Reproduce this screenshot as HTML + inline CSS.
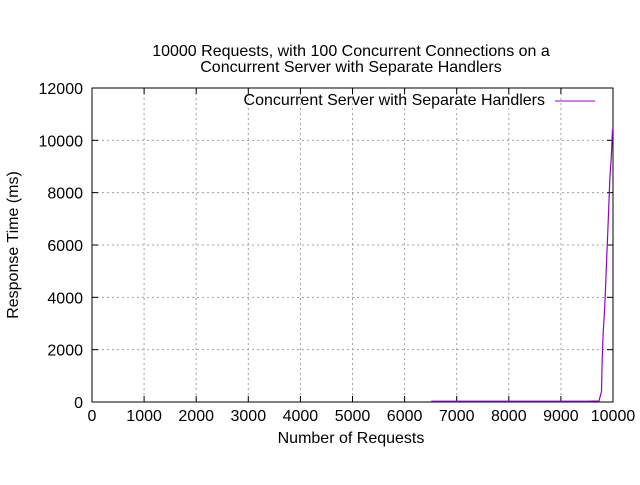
<!DOCTYPE html>
<html><head><meta charset="utf-8"><style>
body{margin:0;background:#fff}
svg text{font-family:"Liberation Sans",sans-serif;fill:#000}
</style></head><body>
<svg width="640" height="480" viewBox="0 0 640 480">
<g id="grid"></g>
<g id="axes"></g>
<text x="351" y="56" font-size="16" text-anchor="middle">10000 Requests, with 100 Concurrent Connections on a</text>
<text x="351" y="72" font-size="16" text-anchor="middle">Concurrent Server with Separate Handlers</text>
<text x="351" y="443" font-size="16" text-anchor="middle">Number of Requests</text>
<text transform="translate(18,245) rotate(-90)" font-size="16" text-anchor="middle">Response Time (ms)</text>
<g>
<text x="545" y="105" font-size="16" text-anchor="end">Concurrent Server with Separate Handlers</text>
<line x1="555" y1="101" x2="595" y2="101" stroke="#9400d3" stroke-width="1"/>
</g>
<path id="series" fill="none" stroke="#9400d3" stroke-width="1.2"/>
</svg>
<script>
const xTicks=[0,1000,2000,3000,4000,5000,6000,7000,8000,9000,10000];
const yTicks=[0,2000,4000,6000,8000,10000,12000];
const reqs=[6510,7000,8000,9000,9500,9730,9780,9790,9810,9840,9860,9880,9900,9920,9940,9965,9990,10000];
const times=[30,30,30,30,30,40,400,1500,2600,3600,4500,5500,6500,7500,8600,9300,10400,10450];
const L=92,R=613,T=88,B=402;
const sx=v=>L+(v-0)/10000*(R-L);
const sy=v=>B-(v/12000)*(B-T);
const NS='http://www.w3.org/2000/svg';
const grid=document.getElementById('grid'),axes=document.getElementById('axes');
function mk(tag,attrs,parent){const e=document.createElementNS(NS,tag);for(const k in attrs)e.setAttribute(k,attrs[k]);parent.appendChild(e);return e;}
xTicks.forEach(t=>{const x=sx(t);
 if(t>0&&t<10000){const g=mk('line',{x1:x,y1:T,x2:x,y2:B,stroke:'#a0a0a0','stroke-dasharray':'2,3'},grid);
 
 }
 mk('line',{x1:x,y1:B,x2:x,y2:B-6,stroke:'#000'},axes);mk('line',{x1:x,y1:T,x2:x,y2:T+6,stroke:'#000'},axes);
 const tx=mk('text',{x:x,y:B+19,'font-size':16,'text-anchor':'middle'},axes);tx.textContent=t;
 
 });
yTicks.forEach(t=>{const y=sy(t);
 if(t>0&&t<12000){const g=mk('line',{x1:L,y1:y,x2:R,y2:y,stroke:'#a0a0a0','stroke-dasharray':'2,3'},grid);
 
 }
 mk('line',{x1:L,y1:y,x2:L+6,y2:y,stroke:'#000'},axes);mk('line',{x1:R,y1:y,x2:R-6,y2:y,stroke:'#000'},axes);
 const tx=mk('text',{x:L-9,y:y+6,'font-size':16,'text-anchor':'end'},axes);tx.textContent=t;
 
 });
const fr=mk('rect',{x:L,y:T,width:R-L,height:B-T,fill:'none',stroke:'#000'},axes);


document.getElementById('series').setAttribute('d',reqs.map((r,i)=>(i?'L':'M')+sx(r).toFixed(1)+','+sy(times[i]).toFixed(1)).join(''));
</script>
</body></html>
